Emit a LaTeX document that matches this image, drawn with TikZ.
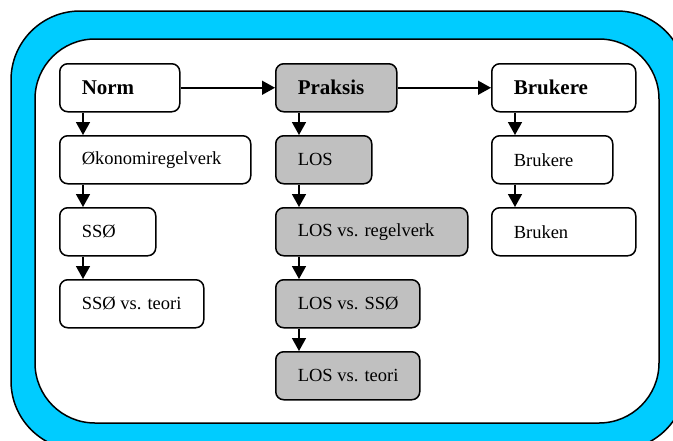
\documentclass[tikz,border=0pt]{standalone}
\usepackage{fontspec}
\setmainfont{Liberation Serif}
\usetikzlibrary{arrows.meta}
\definecolor{frameblue}{RGB}{0,204,255}
\definecolor{boxgray}{RGB}{192,192,192}
% left-aligned label of fixed width inside a box
\newcommand{\lbl}[2]{\makebox[#1][l]{#2}}
\begin{document}
\begin{tikzpicture}[x=1pt,y=-1pt,
  stepbox/.style={draw, line width=1.5pt, rounded corners=8pt, fill=white,
    anchor=north west, minimum height=48pt, inner xsep=22pt, inner ysep=0pt,
    font=\fontsize{18.5}{22}\selectfont},
  headbox/.style={stepbox, font=\fontsize{21}{24}\selectfont\bfseries},
  grey/.style={fill=boxgray},
  link/.style={line width=1.5pt, -{Triangle[width=14pt,length=13pt]}}
]
\useasboundingbox (0,0) rectangle (673,440);
% rounded blue frame
\begin{scope}
  \clip (0,0) rectangle (673,440);
  \draw[line width=1.5pt, fill=frameblue, rounded corners=69pt] (11,11) rectangle (686,450);
  \draw[line width=1.5pt, fill=white, rounded corners=60pt] (35,39) rectangle (659,423);
\end{scope}

% column 1: Norm
\node[headbox] (norm) at (59,63)  {\lbl{76pt}{Norm}};
\node[stepbox] (okon) at (59,135) {\lbl{147pt}{Økonomiregelverk}};
\node[stepbox] (sso)  at (59,207) {\lbl{52pt}{SSØ}};
\node[stepbox] (ssot) at (59,279) {\lbl{100pt}{SSØ vs. teori}};

% column 2: Praksis
\node[headbox, grey] (praksis) at (275,63)  {\lbl{77pt}{Praksis}};
\node[stepbox, grey] (los)     at (275,135) {\lbl{52pt}{LOS}};
\node[stepbox, grey] (losreg)  at (275,207) {\lbl{148pt}{LOS vs. regelverk}};
\node[stepbox, grey] (lossso)  at (275,279) {\lbl{100pt}{LOS vs. SSØ}};
\node[stepbox, grey] (losteo)  at (275,351) {\lbl{100pt}{LOS vs. teori}};

% column 3: Brukere
\node[headbox] (brukh)  at (491,63)  {\lbl{100pt}{Brukere}};
\node[stepbox] (bruk)   at (491,135) {\lbl{77pt}{Brukere}};
\node[stepbox] (bruken) at (491,207) {\lbl{100pt}{Bruken}};

% horizontal links
\draw[link] (norm.east) -- (praksis.west);
\draw[link] (praksis.east) -- (brukh.west);

% vertical links
\foreach \a/\b in {norm/okon, okon/sso, sso/ssot,
                   praksis/los, los/losreg, losreg/lossso, lossso/losteo,
                   brukh/bruk, bruk/bruken}
  \draw[link] ([xshift=24pt]\a.south west) -- ([xshift=24pt]\b.north west);
\end{tikzpicture}
\end{document}
